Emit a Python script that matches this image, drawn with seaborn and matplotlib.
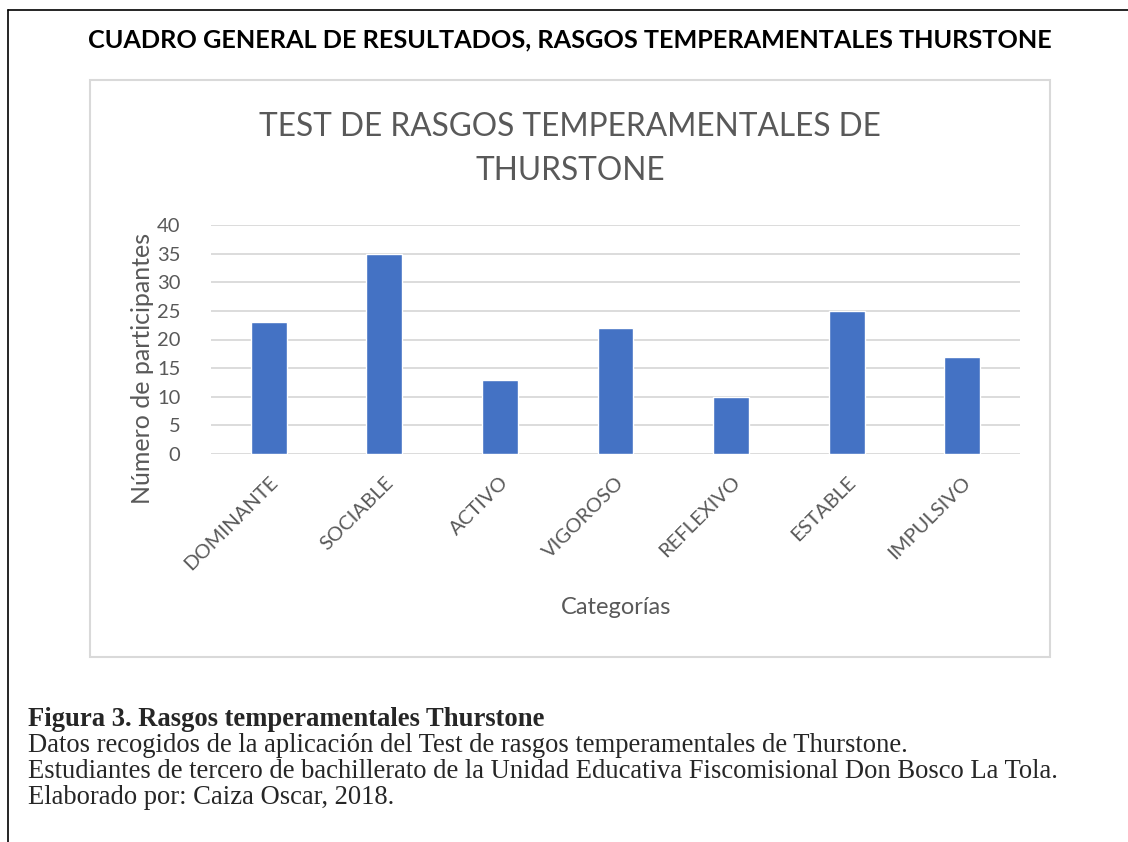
import matplotlib
matplotlib.use("Agg")
import matplotlib.pyplot as plt
import seaborn as sns
import pandas as pd
from matplotlib.patches import Rectangle
from matplotlib.lines import Line2D

# Data
categorias = ["DOMINANTE", "SOCIABLE", "ACTIVO", "VIGOROSO", "REFLEXIVO", "ESTABLE", "IMPULSIVO"]
participantes = [23, 35, 13, 22, 10, 25, 17]
y_ticks = [0, 5, 10, 15, 20, 25, 30, 35, 40]

df = pd.DataFrame({"Categoría": categorias, "Participantes": participantes})

sns.set_style("white")
plt.rcParams["font.family"] = ["Lato", "DejaVu Sans"]

W, H = 1128, 842
fig = plt.figure(figsize=(W / 100, H / 100), dpi=100)

def fx(px):
    return px / W

def fy(py):
    return 1 - py / H

# outer frame (left + top)
fig.add_artist(Line2D([fx(8), fx(8)], [fy(10), 0], color="black", lw=1.2))
fig.add_artist(Line2D([fx(8), 1], [fy(10), fy(10)], color="black", lw=1.2))

# inner chart box
fig.add_artist(Rectangle((fx(90), fy(657)), fx(1050) - fx(90), fy(80) - fy(657),
                         fill=False, edgecolor="#d9d9d9", lw=1.5))

fig.text(fx(570), fy(40), "CUADRO GENERAL DE RESULTADOS, RASGOS TEMPERAMENTALES THURSTONE",
         ha="center", va="center", fontsize=18.2, fontweight="bold", color="black")

fig.text(fx(570), fy(149), "TEST DE RASGOS TEMPERAMENTALES DE\nTHURSTONE",
         ha="center", va="center", fontsize=22.8, color="#595959", linespacing=1.55)

ax = fig.add_axes([fx(211), fy(454), fx(1020) - fx(211), fy(225) - fy(454)])
sns.barplot(data=df, x="Categoría", y="Participantes", color="#4472C4",
            width=0.31, saturation=1, ax=ax)
ax.set_ylim(0, 40)
ax.set_yticks(y_ticks)
ax.yaxis.grid(True, color="#d9d9d9", lw=1.3)
ax.set_axisbelow(True)
for s in ax.spines.values():
    s.set_visible(False)
ax.tick_params(axis="y", length=0, colors="#595959", labelsize=14.5, pad=22)
ax.tick_params(axis="x", length=0, colors="#595959", labelsize=14.5, pad=14)
plt.setp(ax.get_xticklabels(), rotation=45, ha="right", va="top", rotation_mode="anchor")
ax.set_xlabel("")
ax.set_ylabel("")

fig.text(fx(143), fy(368), "Número de participantes", rotation=90,
         ha="center", va="center", fontsize=18, color="#595959")
fig.text(fx(616), fy(607), "Categorías", ha="center", va="center",
         fontsize=17, color="#595959")

serif = ["Liberation Serif", "DejaVu Serif"]
fig.text(fx(28), fy(719), "Figura 3. Rasgos temperamentales Thurstone",
         ha="left", va="center", fontsize=19.2, fontweight="bold", family=serif)
lines = [
    "Datos recogidos de la aplicación del Test de rasgos temperamentales de Thurstone.",
    "Estudiantes de tercero de bachillerato de la Unidad Educativa Fiscomisional Don Bosco La Tola.",
    "Elaborado por: Caiza Oscar, 2018.",
]
for i, t in enumerate(lines):
    fig.text(fx(28), fy(745 + 26 * i), t, ha="left", va="center", fontsize=19.2, family=serif)

fig.savefig("out.png", dpi=100)
